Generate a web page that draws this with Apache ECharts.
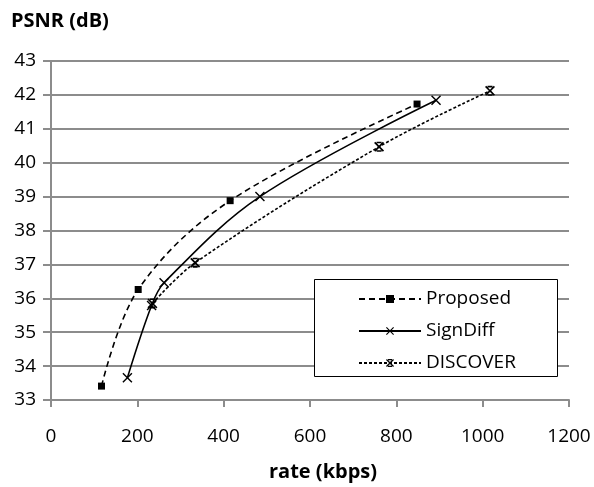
<!DOCTYPE html>
<html>
<head>
<meta charset="utf-8">
<script src="https://cdn.jsdelivr.net/npm/echarts@6/dist/echarts.min.js"></script>
<style>
    html, body { margin: 0; padding: 0; background: #fff; }
    #chart { width: 594px; height: 487px; }
</style>
</head>
<body>
<div id="chart"></div>
<script>
// rate (kbps) / PSNR (dB)
const rateProposed = [117, 202, 415, 848];
const psnrProposed = [33.41, 36.26, 38.88, 41.73];
const rateSignDiff = [177, 233, 262, 484, 892];
const psnrSignDiff = [33.66, 35.79, 36.46, 39.0, 41.84];
const rateDiscover = [235, 334, 760, 1017];
const psnrDiscover = [35.85, 37.05, 40.47, 42.12];
const seriesNames = ['Proposed', 'SignDiff', 'DISCOVER'];

const FONT = '"Open Sans", "Liberation Sans", sans-serif';
const GRID_COLOR = '#8c8c8c';

// markers: X and Excel-like star (X with short bars)
const xMark = 'path://M0,1L1,0L5,4L9,0L10,1L6,5L10,9L9,10L5,6L1,10L0,9L4,5Z';
const starMark = 'path://M0,1.2L1.2,0L5,3.8L8.8,0L10,1.2L6.2,5L10,8.8L8.8,10L5,6.2L1.2,10L0,8.8L3.8,5Z M2.5,0L7.5,0L7.5,1.6L2.5,1.6Z M2.5,8.4L7.5,8.4L7.5,10L2.5,10Z';

function zip(xs, ys) {
    return xs.map((x, i) => [x, ys[i]]);
}

const chart = echarts.init(document.getElementById('chart'));
chart.setOption({
    animation: false,
    textStyle: {fontFamily: FONT},
    title: [
        {
            text: 'PSNR (dB)',
            left: 6,
            top: 6,
            textStyle: {fontFamily: FONT, fontSize: 20, fontWeight: 'bold', color: '#000'}
        },
        {
            text: 'rate (kbps)',
            left: 264,
            top: 457,
            textStyle: {fontFamily: FONT, fontSize: 20, fontWeight: 'bold', color: '#000'}
        }
    ],
    grid: {left: 51, right: 25, top: 61, bottom: 87},
    // legend frame
    graphic: [{
        type: 'rect',
        left: 314,
        top: 279,
        shape: {width: 243, height: 97},
        style: {fill: '#fff', stroke: '#000', lineWidth: 1},
        z: 50
    }],
    legend: {
        orient: 'vertical',
        left: 353,
        top: 283,
        itemWidth: 62,
        itemHeight: 10,
        itemGap: 10,
        z: 60,
        data: seriesNames,
        textStyle: {fontFamily: FONT, fontSize: 19, color: '#000', lineHeight: 22}
    },
    xAxis: {
        type: 'value',
        min: 0,
        max: 1200,
        interval: 200,
        axisLine: {show: true, lineStyle: {color: GRID_COLOR, width: 2}},
        axisTick: {show: true, length: 7, lineStyle: {color: GRID_COLOR, width: 2}},
        splitLine: {show: false},
        axisLabel: {
            fontFamily: FONT, fontSize: 19, color: '#000', margin: 27,
            formatter: v => String(v)
        }
    },
    yAxis: {
        type: 'value',
        min: 33,
        max: 43,
        interval: 1,
        axisLine: {show: true, lineStyle: {color: GRID_COLOR, width: 2}},
        axisTick: {show: true, length: 8, lineStyle: {color: GRID_COLOR, width: 2}},
        splitLine: {show: true, lineStyle: {color: GRID_COLOR, width: 2}},
        axisLabel: {fontFamily: FONT, fontSize: 19, color: '#000', margin: 15}
    },
    series: [
        {
            name: 'Proposed',
            type: 'line',
            smooth: 0.35,
            data: zip(rateProposed, psnrProposed),
            symbol: 'rect',
            symbolSize: 7,
            itemStyle: {color: '#000'},
            lineStyle: {color: '#000', width: 1.6, type: [6, 4]}
        },
        {
            name: 'SignDiff',
            type: 'line',
            smooth: 0.35,
            data: zip(rateSignDiff, psnrSignDiff),
            symbol: xMark,
            symbolSize: 10,
            itemStyle: {color: '#000'},
            lineStyle: {color: '#000', width: 1.6, type: 'solid'}
        },
        {
            name: 'DISCOVER',
            type: 'line',
            smooth: 0.35,
            data: zip(rateDiscover, psnrDiscover),
            symbol: starMark,
            symbolSize: 10,
            itemStyle: {color: '#000'},
            lineStyle: {color: '#000', width: 1.6, type: [3, 2]}
        }
    ]
});
</script>
</body>
</html>
